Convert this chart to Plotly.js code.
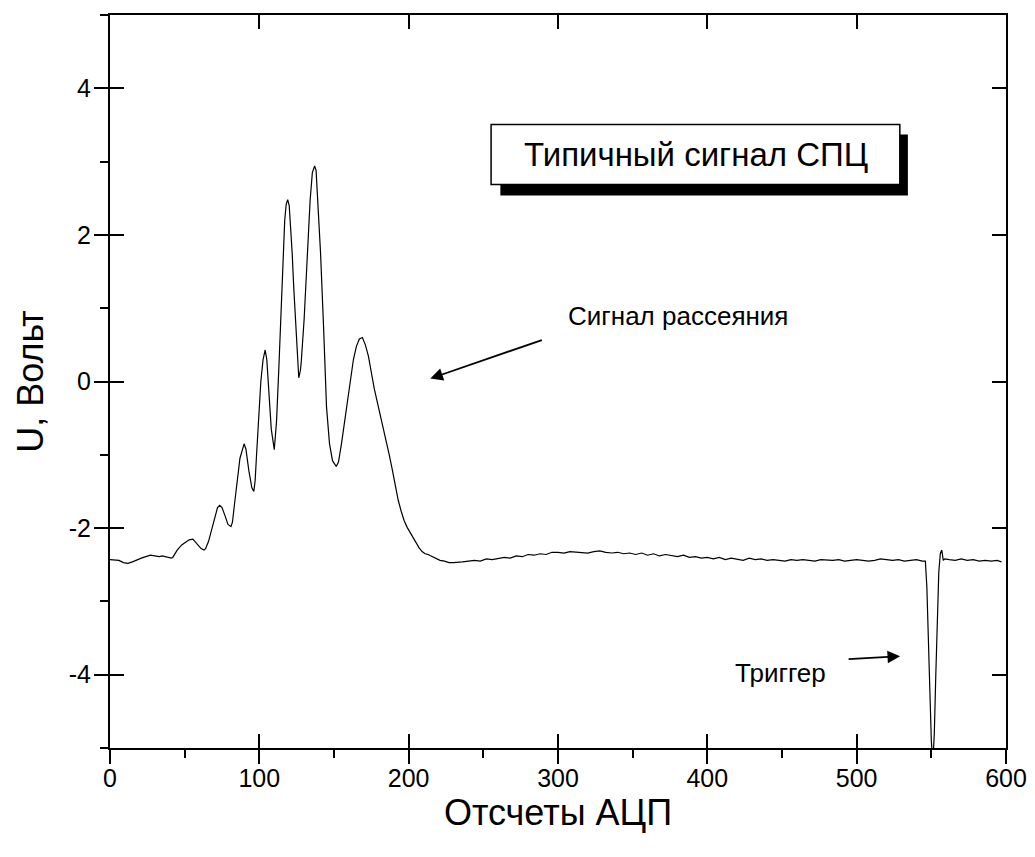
<!DOCTYPE html>
<html>
<head>
<meta charset="utf-8">
<script src="https://cdn.plot.ly/plotly-3.0.1.min.js"></script>
<style>html,body{margin:0;padding:0;background:#fff;}#chart{width:1035px;height:857px;}</style>
</head>
<body>
<div id="chart"></div>
<script>
// ADC sample index (Отсчеты АЦП)
const samples = [0,3,6,9,12,15,18,21,24,27,30,33,35,38,41,42,45,48,51,53,55.5,58,61,63,64,66,68,70,72,73.5,75,77,79,81,82,83.5,85,87,89.8,91,93,95,96.3,97.2,98,99.5,101,102.5,103.9,105,106.5,108,110,111.5,113,114,115,116,117,118,119,120,121,122,123,124,125,126.4,127.5,128,130,132,134,135.5,137,138,139,141,143,145,147,149,151.5,153,155,157,159,161,163,165,167,169,171,173,175,177,179,181,183,185,187,189,191,193,195,197,199,201,203,205,207,209,211,213,215,217,219,221,224,227,230,232,236,240,244,248,252,256,260,264,268,272,276,280,284,288,292,296,300,304,308,312,316,320,324,328,332,336,340,344,348,352,356,360,364,368,372,376,380,384,388,392,396,400,404,408,412,416,420,424,428,432,436,440,444,448,452,456,460,464,468,472,476,480,484,488,492,496,500,504,508,512,516,520,524,528,532,536,540,544,546,547,548,549,550,551,552,553,554,555,556,557,558,559,562,566,570,574,578,582,586,590,594,597];
// Voltage U (Вольт)
const voltage = [-2.43,-2.43,-2.44,-2.47,-2.48,-2.46,-2.43,-2.41,-2.39,-2.37,-2.38,-2.39,-2.38,-2.40,-2.41,-2.40,-2.30,-2.23,-2.19,-2.16,-2.15,-2.21,-2.28,-2.30,-2.28,-2.18,-2.03,-1.85,-1.72,-1.69,-1.72,-1.83,-1.95,-1.98,-1.92,-1.65,-1.38,-1.05,-0.85,-0.92,-1.22,-1.45,-1.50,-1.35,-1.05,-0.45,0.00,0.30,0.43,0.30,-0.15,-0.65,-0.93,-0.55,0.15,0.65,1.10,1.80,2.20,2.42,2.48,2.40,2.10,1.75,1.30,0.90,0.45,0.05,0.15,0.25,0.85,1.70,2.47,2.85,2.94,2.88,2.55,1.75,0.75,-0.35,-0.85,-1.08,-1.16,-1.10,-0.85,-0.55,-0.25,0.05,0.30,0.48,0.58,0.60,0.50,0.35,0.12,-0.10,-0.28,-0.45,-0.62,-0.80,-1.00,-1.20,-1.42,-1.62,-1.77,-1.90,-1.99,-2.06,-2.14,-2.22,-2.27,-2.32,-2.35,-2.36,-2.38,-2.40,-2.43,-2.44,-2.45,-2.47,-2.47,-2.47,-2.46,-2.45,-2.44,-2.45,-2.42,-2.43,-2.41,-2.40,-2.41,-2.38,-2.39,-2.36,-2.37,-2.35,-2.36,-2.33,-2.33,-2.34,-2.32,-2.33,-2.33,-2.34,-2.32,-2.31,-2.33,-2.34,-2.33,-2.35,-2.34,-2.36,-2.34,-2.37,-2.35,-2.38,-2.36,-2.38,-2.39,-2.37,-2.40,-2.39,-2.41,-2.40,-2.42,-2.40,-2.43,-2.41,-2.42,-2.44,-2.41,-2.43,-2.42,-2.44,-2.43,-2.44,-2.45,-2.43,-2.44,-2.43,-2.44,-2.45,-2.43,-2.44,-2.44,-2.43,-2.45,-2.44,-2.43,-2.44,-2.45,-2.44,-2.42,-2.43,-2.44,-2.43,-2.45,-2.44,-2.43,-2.45,-2.45,-2.80,-3.60,-4.30,-4.90,-5.20,-4.80,-4.00,-3.20,-2.60,-2.35,-2.30,-2.44,-2.42,-2.43,-2.44,-2.42,-2.44,-2.43,-2.45,-2.44,-2.45,-2.44,-2.46];

const xTickVals = [0,100,200,300,400,500,600];
const xTickText = ['0','100','200','300','400','500','600'];
const yTickVals = [-4,-2,0,2,4];
const yTickText = ['-4','-2','0','2','4'];

const FONT = 'Liberation Sans, Arial, sans-serif';

const traces = [
  {x: samples, y: voltage, type:'scatter', mode:'lines', line:{color:'#000', width:1.2}, hoverinfo:'skip', showlegend:false},
  {x: samples, y: voltage, type:'scatter', mode:'lines', xaxis:'x2', yaxis:'y2', line:{color:'rgba(0,0,0,0)', width:0}, hoverinfo:'skip', showlegend:false}
];

const axBase = {showgrid:false, zeroline:false, showline:true, linecolor:'#000', linewidth:2, tickcolor:'#000', tickwidth:2, ticklen:14};

const layout = {
  width:1035, height:857,
  margin:{l:110, r:29, t:15, b:109},
  paper_bgcolor:'#fff', plot_bgcolor:'#fff',
  font:{family:FONT, color:'#000'},
  showlegend:false,
  xaxis: Object.assign({}, axBase, {
    range:[0,600], tickvals:xTickVals, ticktext:xTickText, ticks:'outside', mirror:true, anchor:'y',
    minor:{ticks:'outside', ticklen:8, tickwidth:2, tickcolor:'#000', dtick:50, tick0:0},
    tickfont:{size:25, family:FONT}, ticklabelstandoff:-7,
    title:{text:'Отсчеты АЦП', font:{size:36, family:FONT}, standoff:0}
  }),
  yaxis: Object.assign({}, axBase, {
    range:[-5,5], tickvals:yTickVals, ticktext:yTickText, ticks:'outside', mirror:true, anchor:'x',
    minor:{ticks:'outside', ticklen:8, tickwidth:2, tickcolor:'#000', dtick:1, tick0:0},
    tickfont:{size:25, family:FONT}, ticklabelstandoff:-2,
    title:{text:'U, Вольт', font:{size:36, family:FONT}, standoff:14}
  }),
  xaxis2: Object.assign({}, axBase, {
    overlaying:'x', matches:'x', anchor:'y2', side:'bottom', tickvals:xTickVals, ticks:'inside', mirror:'ticks', showticklabels:false
  }),
  yaxis2: Object.assign({}, axBase, {
    overlaying:'y', matches:'y', anchor:'x2', side:'left', tickvals:yTickVals, ticks:'inside', mirror:'ticks', showticklabels:false
  }),
  shapes:[
    {type:'rect', xref:'x', yref:'y', x0:261.4, x1:534.3, y0:2.537, y1:3.370, fillcolor:'#000', line:{width:0}, layer:'above'},
    {type:'rect', xref:'x', yref:'y', x0:255.2, x1:528.9, y0:2.688, y1:3.506, fillcolor:'#fff', line:{color:'#000', width:1.5}, layer:'above'}
  ],
  annotations:[
    {x:392.2, y:3.097, xref:'x', yref:'y', xanchor:'center', yanchor:'middle', text:'Типичный сигнал СПЦ', showarrow:false, font:{size:33, family:FONT, color:'#000'}},
    {x:214.5, y:0.04, xref:'x', yref:'y', ax:113, ay:-39, text:'', showarrow:true, arrowhead:2, arrowsize:1.4, arrowwidth:1.8, arrowcolor:'#000'},
    {x:678, y:316, xref:'paper', yref:'paper', xanchor:'center', yanchor:'middle', text:'Сигнал рассеяния', showarrow:false, font:{size:26, family:FONT, color:'#000'}},
    {x:529.1, y:-3.748, xref:'x', yref:'y', ax:-53, ay:3, text:'', showarrow:true, arrowhead:2, arrowsize:1.4, arrowwidth:1.8, arrowcolor:'#000'},
    {x:780, y:673, xref:'paper', yref:'paper', xanchor:'center', yanchor:'middle', text:'Триггер', showarrow:false, font:{size:26, family:FONT, color:'#000'}}
  ]
};
// convert pixel-placed labels to paper coordinates of the plot area
layout.annotations.forEach(a => {
  if (a.xref === 'paper') { a.x = (a.x - 110) / (1035 - 110 - 29); a.y = (748 - a.y) / (857 - 15 - 109); }
});

Plotly.newPlot('chart', traces, layout, {staticPlot:true, displayModeBar:false});
</script>
</body>
</html>
